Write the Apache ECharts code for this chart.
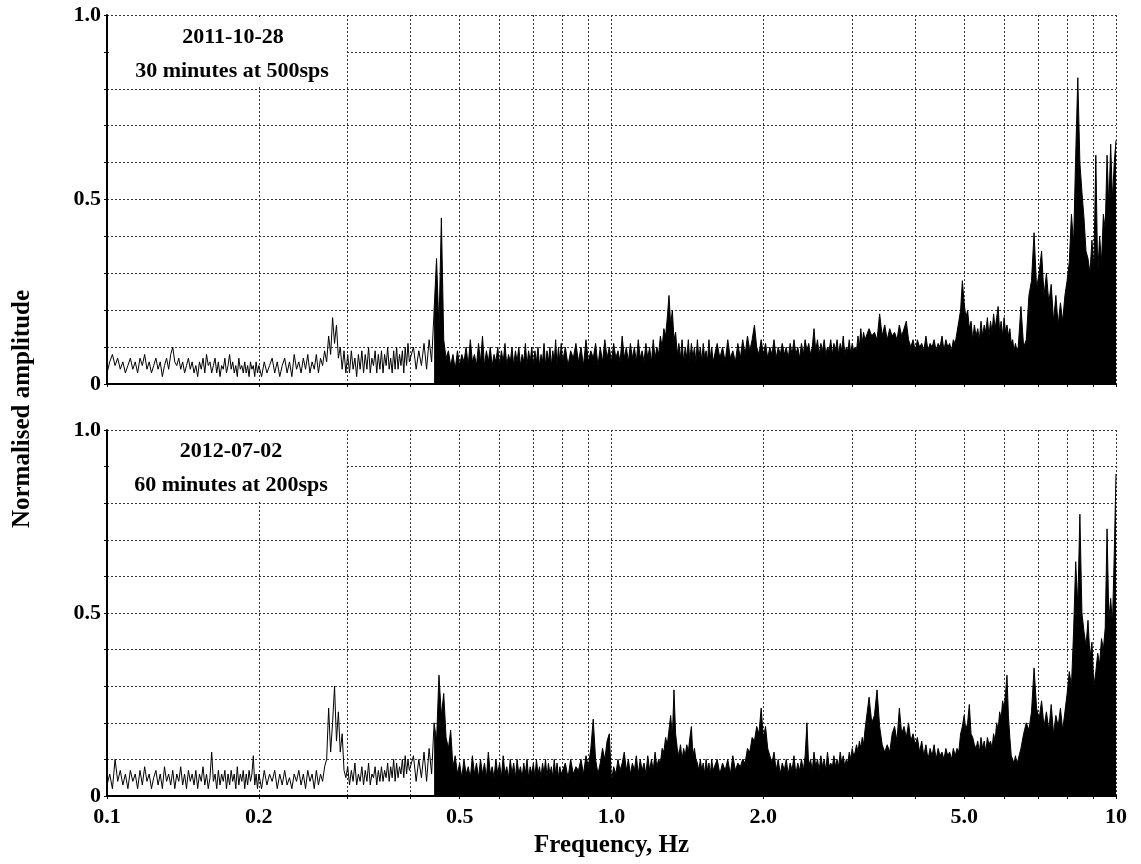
<!DOCTYPE html>
<html>
<head>
<meta charset="utf-8">
<script src="https://cdn.jsdelivr.net/npm/echarts@6/dist/echarts.min.js"></script>
<style>
  html, body { margin: 0; padding: 0; background: #fff; }
  #chart { width: 1141px; height: 864px; }
</style>
</head>
<body>
<div id="chart"></div>
<script>
// sample frequencies (Hz), 80 per octave
var f1 = [0.1,0.10125,0.1025,0.10375,0.105,0.10625,0.1075,0.10875,0.11,0.11125,
          0.1125,0.11375,0.115,0.11625,0.1175,0.11875,0.12,0.12125,0.1225,0.12375,
          0.125,0.12625,0.1275,0.12875,0.13,0.13125,0.1325,0.13375,0.135,0.13625,
          0.1375,0.13875,0.14,0.14125,0.1425,0.14375,0.145,0.14625,0.1475,0.14875,
          0.15,0.15125,0.1525,0.15375,0.155,0.15625,0.1575,0.15875,0.16,0.16125,
          0.1625,0.16375,0.165,0.16625,0.1675,0.16875,0.17,0.17125,0.1725,0.17375,
          0.175,0.17625,0.1775,0.17875,0.18,0.18125,0.1825,0.18375,0.185,0.18625,
          0.1875,0.18875,0.19,0.19125,0.1925,0.19375,0.195,0.19625,0.1975,0.19875];
var f2 = [0.2,0.2025,0.205,0.2075,0.21,0.2125,0.215,0.2175,0.22,0.2225,
          0.225,0.2275,0.23,0.2325,0.235,0.2375,0.24,0.2425,0.245,0.2475,
          0.25,0.2525,0.255,0.2575,0.26,0.2625,0.265,0.2675,0.27,0.2725,
          0.275,0.2775,0.28,0.2825,0.285,0.2875,0.29,0.2925,0.295,0.2975,
          0.3,0.3025,0.305,0.3075,0.31,0.3125,0.315,0.3175,0.32,0.3225,
          0.325,0.3275,0.33,0.3325,0.335,0.3375,0.34,0.3425,0.345,0.3475,
          0.35,0.3525,0.355,0.3575,0.36,0.3625,0.365,0.3675,0.37,0.3725,
          0.375,0.3775,0.38,0.3825,0.385,0.3875,0.39,0.3925,0.395,0.3975];
var f3 = [0.4,0.405,0.41,0.415,0.42,0.425,0.43,0.435,0.44,0.445,
          0.45,0.455,0.46,0.465,0.47,0.475,0.48,0.485,0.49,0.495,
          0.5,0.505,0.51,0.515,0.52,0.525,0.53,0.535,0.54,0.545,
          0.55,0.555,0.56,0.565,0.57,0.575,0.58,0.585,0.59,0.595,
          0.6,0.605,0.61,0.615,0.62,0.625,0.63,0.635,0.64,0.645,
          0.65,0.655,0.66,0.665,0.67,0.675,0.68,0.685,0.69,0.695,
          0.7,0.705,0.71,0.715,0.72,0.725,0.73,0.735,0.74,0.745,
          0.75,0.755,0.76,0.765,0.77,0.775,0.78,0.785,0.79,0.795];
var f4 = [0.8,0.81,0.82,0.83,0.84,0.85,0.86,0.87,0.88,0.89,
          0.9,0.91,0.92,0.93,0.94,0.95,0.96,0.97,0.98,0.99,
          1,1.01,1.02,1.03,1.04,1.05,1.06,1.07,1.08,1.09,
          1.1,1.11,1.12,1.13,1.14,1.15,1.16,1.17,1.18,1.19,
          1.2,1.21,1.22,1.23,1.24,1.25,1.26,1.27,1.28,1.29,
          1.3,1.31,1.32,1.33,1.34,1.35,1.36,1.37,1.38,1.39,
          1.4,1.41,1.42,1.43,1.44,1.45,1.46,1.47,1.48,1.49,
          1.5,1.51,1.52,1.53,1.54,1.55,1.56,1.57,1.58,1.59];
var f5 = [1.6,1.62,1.64,1.66,1.68,1.7,1.72,1.74,1.76,1.78,
          1.8,1.82,1.84,1.86,1.88,1.9,1.92,1.94,1.96,1.98,
          2,2.02,2.04,2.06,2.08,2.1,2.12,2.14,2.16,2.18,
          2.2,2.22,2.24,2.26,2.28,2.3,2.32,2.34,2.36,2.38,
          2.4,2.42,2.44,2.46,2.48,2.5,2.52,2.54,2.56,2.58,
          2.6,2.62,2.64,2.66,2.68,2.7,2.72,2.74,2.76,2.78,
          2.8,2.82,2.84,2.86,2.88,2.9,2.92,2.94,2.96,2.98,
          3,3.02,3.04,3.06,3.08,3.1,3.12,3.14,3.16,3.18];
var f6 = [3.2,3.24,3.28,3.32,3.36,3.4,3.44,3.48,3.52,3.56,
          3.6,3.64,3.68,3.72,3.76,3.8,3.84,3.88,3.92,3.96,
          4,4.04,4.08,4.12,4.16,4.2,4.24,4.28,4.32,4.36,
          4.4,4.44,4.48,4.52,4.56,4.6,4.64,4.68,4.72,4.76,
          4.8,4.84,4.88,4.92,4.96,5,5.04,5.08,5.12,5.16,
          5.2,5.24,5.28,5.32,5.36,5.4,5.44,5.48,5.52,5.56,
          5.6,5.64,5.68,5.72,5.76,5.8,5.84,5.88,5.92,5.96,
          6,6.04,6.08,6.12,6.16,6.2,6.24,6.28,6.32,6.36];
var f7 = [6.4,6.48,6.56,6.64,6.72,6.8,6.88,6.96,7.04,7.12,
          7.2,7.28,7.36,7.44,7.52,7.6,7.68,7.76,7.84,7.92,
          8,8.08,8.16,8.24,8.32,8.4,8.48,8.56,8.64,8.72,
          8.8,8.88,8.96,9.04,9.12,9.2,9.28,9.36,9.44,9.52,
          9.6,9.68,9.76,9.84,9.92,10];

// 2011-10-28, 30 minutes at 500sps (normalised amplitude)
var top1 = [0.03,0.06,0.08,0.05,0.07,0.04,0.06,0.03,0.05,0.07,
            0.04,0.06,0.03,0.07,0.05,0.08,0.04,0.06,0.03,0.05,
            0.07,0.04,0.06,0.02,0.05,0.07,0.04,0.08,0.10,0.06,
            0.05,0.07,0.04,0.06,0.03,0.05,0.07,0.04,0.06,0.03,
            0.05,0.02,0.06,0.04,0.07,0.03,0.08,0.05,0.06,0.03,
            0.05,0.07,0.03,0.06,0.02,0.05,0.04,0.07,0.03,0.05,
            0.08,0.04,0.06,0.03,0.05,0.02,0.07,0.04,0.05,0.03,
            0.06,0.03,0.05,0.02,0.06,0.04,0.05,0.02,0.06,0.03];
var top2 = [0.05,0.02,0.06,0.03,0.05,0.07,0.03,0.06,0.02,0.05,
            0.07,0.03,0.06,0.02,0.08,0.04,0.06,0.03,0.07,0.04,
            0.08,0.03,0.06,0.04,0.08,0.03,0.07,0.05,0.09,0.06,
            0.13,0.08,0.18,0.11,0.16,0.07,0.10,0.04,0.09,0.03,
            0.08,0.03,0.09,0.04,0.07,0.02,0.08,0.04,0.09,0.03,
            0.08,0.04,0.10,0.03,0.07,0.05,0.09,0.03,0.08,0.04,
            0.09,0.03,0.08,0.05,0.10,0.04,0.07,0.03,0.09,0.04,
            0.10,0.04,0.08,0.05,0.09,0.03,0.10,0.05,0.11,0.06];
var top3 = [0.06,0.10,0.04,0.09,0.05,0.11,0.04,0.12,0.06,0.20,
            0.34,0.15,0.45,0.12,0.07,0.09,0.05,0.08,0.04,0.09,
            0.05,0.08,0.06,0.10,0.05,0.12,0.06,0.08,0.05,0.11,
            0.06,0.13,0.05,0.09,0.06,0.10,0.05,0.08,0.06,0.10,
            0.05,0.09,0.06,0.11,0.05,0.08,0.06,0.10,0.05,0.09,
            0.06,0.10,0.05,0.08,0.06,0.11,0.05,0.09,0.06,0.10,
            0.05,0.09,0.06,0.10,0.05,0.08,0.06,0.11,0.05,0.09,
            0.06,0.10,0.05,0.09,0.06,0.12,0.05,0.10,0.06,0.11];
var top4 = [0.06,0.10,0.05,0.09,0.07,0.11,0.06,0.10,0.05,0.12,
            0.06,0.09,0.07,0.11,0.05,0.10,0.06,0.12,0.07,0.10,
            0.06,0.11,0.07,0.09,0.06,0.13,0.07,0.10,0.06,0.11,
            0.07,0.10,0.06,0.12,0.07,0.09,0.06,0.11,0.07,0.10,
            0.06,0.12,0.07,0.10,0.08,0.13,0.10,0.15,0.13,0.18,
            0.24,0.16,0.20,0.12,0.14,0.08,0.11,0.07,0.12,0.06,
            0.10,0.07,0.12,0.06,0.11,0.07,0.10,0.06,0.12,0.07,
            0.10,0.06,0.11,0.07,0.09,0.06,0.12,0.07,0.10,0.06];
var top5 = [0.06,0.11,0.07,0.10,0.06,0.12,0.07,0.09,0.06,0.11,
            0.07,0.12,0.08,0.13,0.09,0.12,0.16,0.10,0.08,0.12,
            0.08,0.11,0.07,0.10,0.08,0.12,0.07,0.10,0.08,0.11,
            0.08,0.10,0.07,0.11,0.08,0.12,0.08,0.10,0.07,0.11,
            0.08,0.12,0.09,0.11,0.08,0.10,0.15,0.09,0.12,0.08,
            0.11,0.09,0.12,0.08,0.10,0.09,0.12,0.08,0.11,0.09,
            0.12,0.08,0.11,0.09,0.13,0.08,0.10,0.09,0.12,0.08,
            0.11,0.09,0.10,0.09,0.13,0.10,0.15,0.11,0.14,0.12];
var top6 = [0.12,0.15,0.13,0.14,0.12,0.19,0.13,0.16,0.12,0.15,
            0.13,0.14,0.12,0.16,0.13,0.15,0.17,0.12,0.10,0.12,
            0.09,0.12,0.10,0.11,0.09,0.13,0.09,0.11,0.10,0.12,
            0.09,0.11,0.10,0.13,0.09,0.12,0.10,0.11,0.09,0.12,
            0.11,0.14,0.17,0.20,0.28,0.22,0.18,0.20,0.15,0.17,
            0.12,0.16,0.13,0.15,0.12,0.17,0.13,0.16,0.14,0.18,
            0.13,0.17,0.14,0.19,0.15,0.18,0.21,0.14,0.17,0.13,
            0.18,0.14,0.16,0.13,0.15,0.11,0.12,0.09,0.11,0.09];
var top7 = [0.10,0.21,0.10,0.12,0.24,0.28,0.41,0.26,0.30,0.36,
            0.24,0.30,0.22,0.27,0.17,0.24,0.16,0.22,0.17,0.24,
            0.28,0.33,0.46,0.38,0.62,0.83,0.60,0.52,0.45,0.36,
            0.34,0.30,0.39,0.31,0.62,0.30,0.40,0.33,0.46,0.42,
            0.62,0.48,0.65,0.50,0.60,0.66];

// 2012-07-02, 60 minutes at 200sps
var bot1 = [0.03,0.06,0.02,0.10,0.04,0.07,0.03,0.06,0.02,0.07,
            0.04,0.06,0.02,0.07,0.03,0.08,0.04,0.06,0.02,0.05,
            0.07,0.03,0.06,0.02,0.08,0.04,0.06,0.03,0.07,0.02,
            0.06,0.04,0.08,0.03,0.06,0.02,0.07,0.04,0.06,0.03,
            0.07,0.02,0.06,0.04,0.08,0.03,0.06,0.02,0.05,0.12,
            0.04,0.06,0.02,0.07,0.03,0.06,0.04,0.07,0.02,0.06,
            0.03,0.07,0.04,0.06,0.02,0.08,0.03,0.06,0.04,0.07,
            0.02,0.06,0.03,0.07,0.04,0.06,0.11,0.03,0.06,0.02];
var bot2 = [0.06,0.02,0.07,0.03,0.06,0.04,0.07,0.02,0.06,0.03,
            0.07,0.03,0.05,0.02,0.06,0.04,0.07,0.03,0.06,0.02,
            0.07,0.04,0.06,0.02,0.07,0.03,0.06,0.04,0.08,0.10,
            0.24,0.12,0.20,0.30,0.15,0.23,0.12,0.17,0.07,0.05,
            0.08,0.03,0.07,0.04,0.09,0.03,0.06,0.04,0.08,0.03,
            0.07,0.04,0.09,0.03,0.06,0.05,0.08,0.03,0.07,0.04,
            0.08,0.04,0.07,0.05,0.09,0.04,0.08,0.05,0.10,0.04,
            0.09,0.05,0.08,0.06,0.10,0.05,0.11,0.06,0.10,0.07];
var bot3 = [0.07,0.11,0.04,0.10,0.05,0.12,0.04,0.13,0.06,0.20,
            0.15,0.33,0.22,0.28,0.16,0.13,0.18,0.08,0.11,0.06,
            0.09,0.05,0.10,0.06,0.08,0.05,0.11,0.06,0.09,0.05,
            0.10,0.06,0.09,0.05,0.12,0.06,0.08,0.05,0.10,0.06,
            0.09,0.05,0.11,0.06,0.08,0.05,0.10,0.06,0.09,0.05,
            0.10,0.06,0.08,0.05,0.09,0.06,0.10,0.05,0.08,0.06,
            0.09,0.05,0.10,0.06,0.08,0.05,0.09,0.06,0.10,0.05,
            0.09,0.06,0.08,0.05,0.10,0.06,0.09,0.05,0.08,0.06];
var bot4 = [0.06,0.09,0.05,0.10,0.06,0.08,0.07,0.10,0.06,0.11,
            0.08,0.13,0.21,0.10,0.06,0.09,0.13,0.10,0.15,0.17,
            0.04,0.08,0.06,0.10,0.07,0.09,0.12,0.07,0.10,0.06,
            0.09,0.07,0.11,0.06,0.10,0.07,0.09,0.06,0.11,0.07,
            0.10,0.07,0.12,0.08,0.10,0.09,0.13,0.12,0.16,0.14,
            0.18,0.22,0.16,0.29,0.17,0.13,0.11,0.14,0.10,0.13,
            0.11,0.14,0.12,0.16,0.19,0.11,0.13,0.10,0.09,0.07,
            0.10,0.07,0.09,0.06,0.10,0.07,0.09,0.06,0.10,0.07];
var bot5 = [0.07,0.10,0.06,0.09,0.07,0.10,0.06,0.11,0.07,0.09,
            0.08,0.10,0.09,0.13,0.12,0.16,0.15,0.19,0.17,0.24,
            0.16,0.19,0.13,0.11,0.09,0.12,0.07,0.10,0.06,0.09,
            0.07,0.10,0.06,0.09,0.07,0.11,0.06,0.09,0.07,0.10,
            0.07,0.11,0.20,0.08,0.10,0.07,0.12,0.08,0.10,0.07,
            0.11,0.08,0.10,0.07,0.12,0.08,0.09,0.08,0.11,0.08,
            0.10,0.08,0.12,0.09,0.11,0.08,0.10,0.09,0.12,0.10,
            0.13,0.11,0.12,0.14,0.12,0.15,0.13,0.16,0.14,0.18];
var bot6 = [0.18,0.27,0.20,0.22,0.29,0.19,0.14,0.12,0.14,0.12,
            0.17,0.19,0.15,0.24,0.17,0.19,0.16,0.20,0.15,0.17,
            0.14,0.16,0.12,0.15,0.11,0.14,0.10,0.13,0.11,0.14,
            0.10,0.13,0.11,0.12,0.10,0.13,0.11,0.12,0.10,0.13,
            0.11,0.13,0.12,0.17,0.19,0.22,0.18,0.20,0.25,0.17,
            0.16,0.14,0.13,0.15,0.12,0.16,0.13,0.15,0.12,0.16,
            0.14,0.15,0.13,0.17,0.15,0.20,0.18,0.23,0.21,0.26,
            0.24,0.28,0.33,0.22,0.16,0.11,0.10,0.09,0.11,0.09];
var bot7 = [0.10,0.13,0.17,0.20,0.18,0.23,0.35,0.24,0.21,0.26,
            0.19,0.23,0.18,0.25,0.17,0.22,0.19,0.24,0.18,0.23,
            0.28,0.34,0.30,0.45,0.64,0.52,0.77,0.50,0.45,0.41,
            0.48,0.38,0.42,0.30,0.34,0.39,0.36,0.43,0.40,0.46,
            0.73,0.48,0.54,0.47,0.66,0.88];

// grid lines and tick labels
var gridFreq = [0.1,0.2,0.3,0.4,0.5,0.6,0.7,0.8,0.9,1,2,3,4,5,6,7,8,9,10];
var labelFreq = [0.1,0.2,0.5,1,2,5,10];

var FONT = '"Liberation Serif", "Times New Roman", serif';

function pairs(fs, as) {
  return fs.map(function (f, i) { return [f, as[i]]; });
}

// below ~0.445 Hz the spectrum is a plain trace, above it a solid black mass
var SPLIT = 9; // index in f3
function splitPanel(a1, a2, a3, a4, a5, a6, a7) {
  var p3 = pairs(f3, a3);
  return {
    trace: [].concat(pairs(f1, a1), pairs(f2, a2), p3.slice(0, SPLIT + 1)),
    dense: [].concat(p3.slice(SPLIT), pairs(f4, a4), pairs(f5, a5), pairs(f6, a6), pairs(f7, a7))
  };
}
var topPanel = splitPanel(top1, top2, top3, top4, top5, top6, top7);
var botPanel = splitPanel(bot1, bot2, bot3, bot4, bot5, bot6, bot7);

var dotted = { color: '#333', width: 1, type: [2, 2] };

function makeX(idx, showLabels) {
  return {
    type: 'log', logBase: 10, min: 0.1, max: 10, gridIndex: idx,
    axisLine: { show: true, onZero: false, lineStyle: { color: '#000', width: 2 } },
    axisTick: { show: true, customValues: gridFreq, length: 3, lineStyle: { color: '#000' } },
    axisLabel: {
      show: showLabels, customValues: labelFreq, margin: 10,
      fontFamily: FONT, fontSize: 22, fontWeight: 'bold', color: '#000',
      formatter: function (v) { return v >= 9.99 ? '10' : (+v).toFixed(1); }
    },
    splitLine: { show: true, lineStyle: dotted },
    name: showLabels ? 'Frequency, Hz' : '',
    nameLocation: 'middle', nameGap: 37,
    nameTextStyle: { fontFamily: FONT, fontSize: 25, fontWeight: 'bold', color: '#000' }
  };
}

function makeY(idx) {
  return {
    type: 'value', min: 0, max: 1, interval: 0.1, gridIndex: idx,
    axisLine: { show: true, lineStyle: { color: '#000', width: 2 } },
    axisTick: { show: true, length: 3, lineStyle: { color: '#000' } },
    axisLabel: {
      margin: 6, fontFamily: FONT, fontSize: 22, fontWeight: 'bold', color: '#000',
      formatter: function (v) {
        if (Math.abs(v) < 1e-9) return '0';
        if (Math.abs(v - 0.5) < 1e-9) return '0.5';
        if (Math.abs(v - 1) < 1e-9) return '1.0';
        return '';
      }
    },
    splitLine: { show: true, lineStyle: dotted }
  };
}

function trace(idx, data) {
  return {
    type: 'line', xAxisIndex: idx, yAxisIndex: idx, data: data,
    showSymbol: false, symbol: 'none', animation: false,
    lineStyle: { color: '#000', width: 1 }
  };
}

function mass(idx, data) {
  return {
    type: 'line', xAxisIndex: idx, yAxisIndex: idx, data: data,
    showSymbol: false, symbol: 'none', animation: false,
    lineStyle: { color: '#000', width: 1 },
    areaStyle: { color: '#000', opacity: 1 }
  };
}

function label(x, y, txt) {
  return {
    type: 'text', x: x, y: y, z: 101,
    style: {
      text: txt, font: 'bold 22px ' + FONT, fill: '#000',
      textAlign: 'center', textVerticalAlign: 'middle'
    }
  };
}

var chart = echarts.init(document.getElementById('chart'));
chart.setOption({
  backgroundColor: '#fff',
  animation: false,
  grid: [
    { left: 107, right: 25, top: 15, height: 369 },
    { left: 107, right: 25, top: 430, height: 366 }
  ],
  xAxis: [makeX(0, false), makeX(1, true)],
  yAxis: [makeY(0), makeY(1)],
  series: [
    trace(0, topPanel.trace), mass(0, topPanel.dense),
    trace(1, botPanel.trace), mass(1, botPanel.dense)
  ],
  graphic: [
    { type: 'rect', z: 100, shape: { x: 109, y: 17, width: 237, height: 69 }, style: { fill: '#fff' } },
    { type: 'rect', z: 100, shape: { x: 109, y: 432, width: 237, height: 68 }, style: { fill: '#fff' } },
    label(233, 37, '2011-10-28'),
    label(232, 71, '30 minutes at 500sps'),
    label(231, 451, '2012-07-02'),
    label(231, 485, '60 minutes at 200sps'),
    {
      type: 'text', x: 23, y: 409, rotation: Math.PI / 2, z: 101,
      style: {
        text: 'Normalised amplitude', font: 'bold 25px ' + FONT, fill: '#000',
        textAlign: 'center', textVerticalAlign: 'middle'
      }
    }
  ]
});
</script>
</body>
</html>
